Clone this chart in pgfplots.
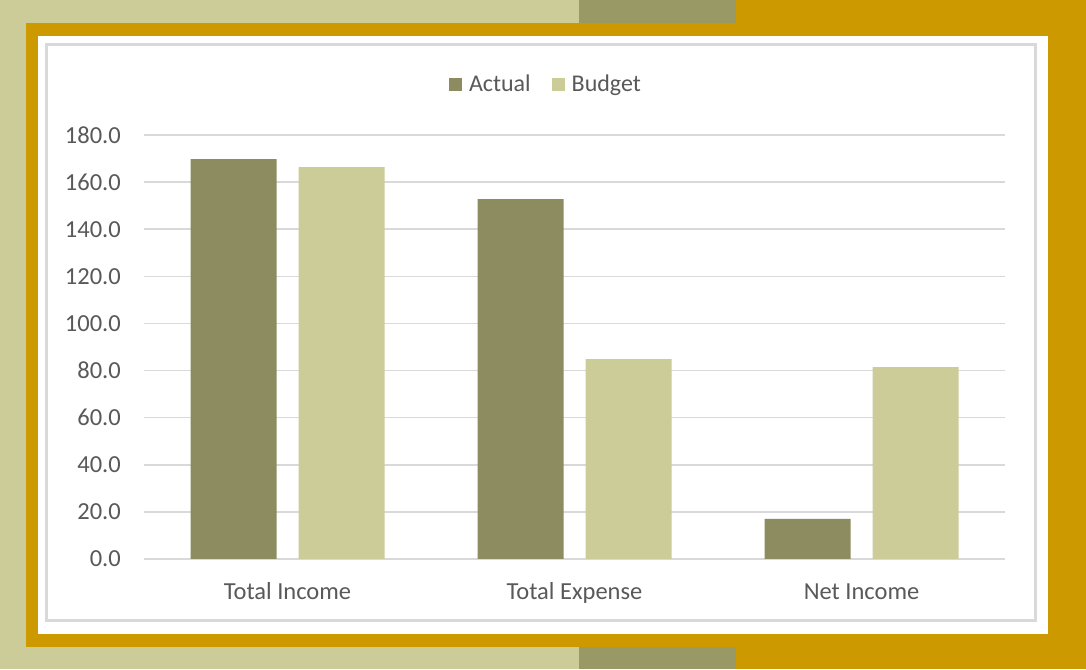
\documentclass[border=0pt]{standalone}
\usepackage{pgfplots}
\pgfplotsset{compat=1.18}
\usepackage{fontspec}
\setmainfont{Carlito}
\definecolor{khaki}{HTML}{CCCC99}
\definecolor{olivestrip}{HTML}{999966}
\definecolor{gold}{HTML}{CC9900}
\definecolor{actual}{HTML}{8C8C60}
\definecolor{budget}{HTML}{CCCC99}
\definecolor{gridc}{HTML}{D9D9D9}
\definecolor{txt}{HTML}{595959}
\begin{document}
\fontsize{24}{29}\selectfont
\begin{tikzpicture}[x=1pt,y=1pt]
\fill[khaki] (0,0) rectangle (1086,669);
\fill[olivestrip] (579,646) rectangle (736,669);
\fill[gold] (736,646) rectangle (1086,669);
\fill[olivestrip] (579,0) rectangle (736,22);
\fill[gold] (736,0) rectangle (1086,22);
\fill[gold] (26,22) rectangle (1086,646);
\fill[white] (38,35) rectangle (1048,633);
\draw[gridc, line width=3pt] (46.5,48.5) rectangle (1035,624.5);
\begin{axis}[
  at={(144pt,110pt)}, anchor=south west,
  width=861pt, height=424pt, scale only axis,
  xmin=-0.5, xmax=2.5, ymin=0, ymax=180,
  ybar=22pt, bar width=86pt,
  xtick={0,1,2}, xticklabels={Total Income, Total Expense, Net Income},
  ytick={0,20,...,180},
  ymajorgrids, grid style={gridc, line width=1.5pt},
  axis line style={draw=none}, major tick length=0pt,
  tick label style={font=\fontsize{24.5}{29}\selectfont, text=txt},
  yticklabel style={inner sep=0pt, xshift=-23pt, /pgf/number format/.cd, fixed, fixed zerofill, precision=1, assume math mode=true},
  xticklabel style={inner sep=0pt, anchor=north, text height=17pt, text depth=5pt, yshift=-23pt},
  legend style={at={(0.4657,1.118)}, anchor=center, draw=none, fill=none,
    legend columns=2, font=\fontsize{24}{29}\selectfont, text=txt,
    nodes={inner sep=0pt},
    /tikz/every odd column/.append style={column sep=7pt},
    /tikz/every even column/.append style={column sep=21pt}},
  legend image code/.code={\path[#1,draw=none] (0pt,-6.5pt) rectangle (13pt,6.5pt);},
]
\addplot[fill=actual, draw=none] coordinates {(0,169.8) (1,152.8) (2,17.0)};
\addplot[fill=budget, draw=none] coordinates {(0,166.4) (1,84.9) (2,81.5)};
\legend{Actual, Budget}
\end{axis}
\pgfresetboundingbox
\useasboundingbox (0,0) rectangle (1086,669);
\end{tikzpicture}
\end{document}
